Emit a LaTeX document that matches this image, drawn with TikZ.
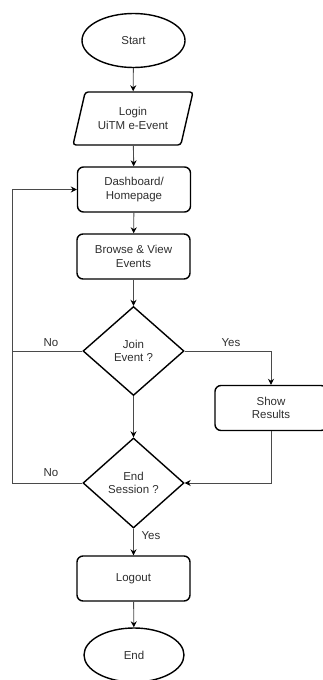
\documentclass[tikz,border=0pt]{standalone}
\usepackage{fontspec}
\setmainfont{Liberation Sans}
\usetikzlibrary{shapes.geometric, arrows.meta}
\definecolor{LineGray}{HTML}{4a4a4a}
\definecolor{TextGray}{HTML}{2e2e2e}

\begin{document}
\begin{tikzpicture}[x=1pt, y=-1pt,
        every node/.style={align=center, inner sep=1pt, text=TextGray,
            font=\fontsize{11.5}{13.5}\selectfont},
        term/.style={ellipse, draw=black, line width=1.4pt, minimum width=103pt, minimum height=54pt},
        inout/.style={trapezium, trapezium left angle=63, trapezium right angle=117,
            trapezium stretches body, draw=black, line width=1.4pt, rounded corners=3pt,
            minimum width=120pt, minimum height=53pt},
        proc/.style={rectangle, draw=black, line width=1.4pt, rounded corners=6pt,
            minimum width=113pt, minimum height=45pt},
        decision/.style={diamond, draw=black, line width=1.4pt, inner sep=0pt,
            minimum width=101pt, minimum height=89pt},
        lbl/.style={inner sep=0pt},
        -{Stealth[length=6pt, width=6pt, color=black]}, LineGray, line width=0.9pt]
        \useasboundingbox (0,0) rectangle (322,680);
        \node[term] (start) at (133.5,40.5) {Start};
        \node[inout] (login) at (133,118.5) {Login\\UiTM e-Event};
        \node[proc] (dash) at (134,189.5) {Dashboard/\\Homepage};
        \node[proc] (browse) at (133.5,256.5) {Browse \& View\\Events};
        \node[decision] (join) at (133.5,351) {Join\\Event ?};
        \node[proc, minimum width=112pt] (show) at (271,408) {Show\\Results};
        \node[decision, minimum height=90pt] (endsess) at (133.5,483) {End\\Session ?};
        \node[proc] (logout) at (133.5,578.5) {Logout};
        \node[term, minimum width=100pt] (end) at (134,655) {End};
        \coordinate (loopx) at (12,0);
        \draw (start) -- (login);
        \draw (login) -- (dash);
        \draw (dash) -- (browse);
        \draw (browse) -- (join);
        \draw (join) -- (endsess);
        \draw (endsess) -- (logout);
        \draw (logout) -- (end);
        \draw (join.east) -| (show.north);
        \draw (show.south) |- (endsess.east);
        \draw (join.west) -- (join.west -| loopx) |- (dash.west);
        \draw[-] (endsess.west) -| (loopx |- join.west);
        \node[lbl] (ljno) at (51,343) {No};
        \node[lbl] (ljyes) at (231,343) {Yes};
        \node[lbl] (leno) at (51,473) {No};
        \node[lbl] (leyes) at (151,536) {Yes};
    \end{tikzpicture}
\end{document}
